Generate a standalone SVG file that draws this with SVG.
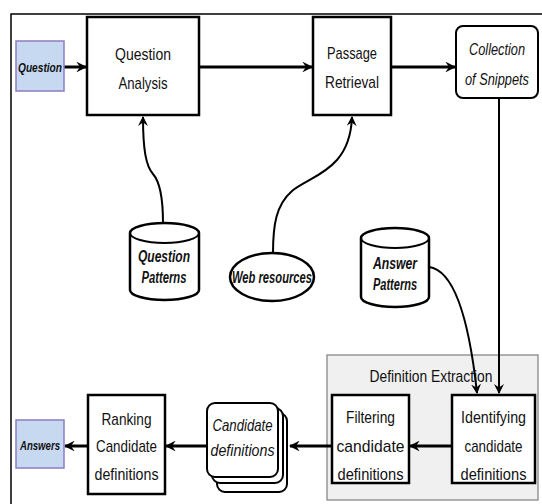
<svg xmlns="http://www.w3.org/2000/svg" width="542" height="504" viewBox="0 0 542 504">
  <style>
    .box{fill:#fff;stroke:#000;stroke-width:2.5}
    .soft{fill:#fff;stroke:#000;stroke-width:2}
    .io{fill:#c6d9f1;stroke:#8e7cc3;stroke-width:1.5}
    .group{fill:#f0f0f0;stroke:#7f7f7f;stroke-width:1.2}
    .t{font-family:"Liberation Sans",Arial,sans-serif;font-size:17px;fill:#111;text-anchor:middle}
    .it{font-style:italic}
    .bi{font-style:italic;font-weight:bold;font-size:16px;fill:#111}
    .sm{font-size:12px}
    .flow{fill:none;stroke:#000;stroke-width:3}
    .link{fill:none;stroke:#000;stroke-width:2}
    .frame{fill:none;stroke:#000;stroke-width:1.5}
  </style>
  <defs>
    <marker id="ahFlow" viewBox="0 0 10 10" refX="9" refY="5" markerWidth="3.6" markerHeight="3.6" orient="auto" markerUnits="strokeWidth">
      <path d="M0,0 L10,5 L0,10 L3.5,5 z" fill="#000"/>
    </marker>
    <marker id="ahLink" viewBox="0 0 10 10" refX="9" refY="5" markerWidth="5" markerHeight="5" orient="auto" markerUnits="strokeWidth">
      <path d="M0,0 L10,5 L0,10 L3.5,5 z" fill="#000"/>
    </marker>
  </defs>

  <!-- outer frame -->
  <path class="frame" d="M11,504 V14 H542"/>

  <!-- definition extraction container -->
  <g id="definition-extraction">
    <rect class="group" x="327" y="355" width="211" height="145"/>
    <text class="t" x="431" y="382" font-size="16" textLength="123" lengthAdjust="spacingAndGlyphs">Definition Extraction</text>
  </g>

  <g id="connectors">
    <line class="flow" x1="64" y1="67" x2="86" y2="67" marker-end="url(#ahFlow)"/>
    <line class="flow" x1="199" y1="67" x2="312" y2="67" marker-end="url(#ahFlow)"/>
    <line class="flow" x1="391" y1="67" x2="455" y2="67" marker-end="url(#ahFlow)"/>
    <line class="link" x1="499" y1="98" x2="499" y2="393" marker-end="url(#ahLink)"/>
    <path class="link" d="M163,223 C163,200 160,182 153,174 C146,166 143,150 143,117" marker-end="url(#ahLink)"/>
    <path class="link" d="M273,253 C273,225 276,205 292,191 C312,175 350,170 352,117" marker-end="url(#ahLink)"/>
    <path class="link" d="M429,267 C452,270 468,310 477,393" marker-end="url(#ahLink)"/>
    <line class="flow" x1="452" y1="446" x2="410" y2="446" marker-end="url(#ahFlow)"/>
    <line class="flow" x1="332" y1="446" x2="290" y2="446" marker-end="url(#ahFlow)"/>
    <line class="flow" x1="207" y1="446" x2="166" y2="446" marker-end="url(#ahFlow)"/>
    <line class="flow" x1="88" y1="446" x2="65" y2="446" marker-end="url(#ahFlow)"/>
  </g>

  <g id="question">
    <rect class="io" x="16" y="41" width="48" height="50"/>
    <text class="t it sm" x="40" y="72" font-weight="bold" textLength="44" lengthAdjust="spacingAndGlyphs">Question</text>
  </g>

  <g id="question-analysis">
    <rect class="box" x="87" y="17" width="112" height="98"/>
    <text class="t" x="143" y="60" textLength="56" lengthAdjust="spacingAndGlyphs">Question</text>
    <text class="t" x="143" y="89" textLength="49" lengthAdjust="spacingAndGlyphs">Analysis</text>
  </g>

  <g id="passage-retrieval">
    <rect class="box" x="313" y="17" width="78" height="98"/>
    <text class="t" x="352" y="59" textLength="50" lengthAdjust="spacingAndGlyphs">Passage</text>
    <text class="t" x="352" y="88" textLength="54" lengthAdjust="spacingAndGlyphs">Retrieval</text>
  </g>

  <g id="collection-of-snippets">
    <rect class="soft" x="456" y="26" width="82" height="72" rx="7"/>
    <text class="t it" x="497" y="55" font-size="14" textLength="56" lengthAdjust="spacingAndGlyphs">Collection</text>
    <text class="t it" x="497" y="85" font-size="14" textLength="64" lengthAdjust="spacingAndGlyphs">of Snippets</text>
  </g>

  <g id="question-patterns">
    <path class="box" d="M130,233 A34.5,10 0 0 1 199,233 V290 A34.5,10 0 0 1 130,290 Z"/>
    <path class="link" d="M130,233 A34.5,10 0 0 0 199,233"/>
    <text class="t bi" x="164" y="262" textLength="52" lengthAdjust="spacingAndGlyphs">Question</text>
    <text class="t bi" x="164" y="283" textLength="45" lengthAdjust="spacingAndGlyphs">Patterns</text>
  </g>

  <g id="web-resources">
    <ellipse class="box" cx="272" cy="277" rx="42" ry="24"/>
    <text class="t bi" x="272" y="283" font-size="14" textLength="80" lengthAdjust="spacingAndGlyphs">Web resources</text>
  </g>

  <g id="answer-patterns">
    <path class="box" d="M361,238 A34,10 0 0 1 429,238 V297 A34,10 0 0 1 361,297 Z"/>
    <path class="link" d="M361,238 A34,10 0 0 0 429,238"/>
    <text class="t bi" x="395" y="269" textLength="44" lengthAdjust="spacingAndGlyphs">Answer</text>
    <text class="t bi" x="395" y="290" textLength="44" lengthAdjust="spacingAndGlyphs">Patterns</text>
  </g>

  <g id="identifying">
    <rect class="box" x="452" y="395" width="83" height="88"/>
    <text class="t" x="493.5" y="423" textLength="65" lengthAdjust="spacingAndGlyphs">Identifying</text>
    <text class="t" x="493.5" y="452" textLength="58" lengthAdjust="spacingAndGlyphs">candidate</text>
    <text class="t" x="493.5" y="480" textLength="66" lengthAdjust="spacingAndGlyphs">definitions</text>
  </g>

  <g id="filtering">
    <rect class="box" x="332" y="395" width="77" height="88"/>
    <text class="t" x="370.5" y="423" textLength="49" lengthAdjust="spacingAndGlyphs">Filtering</text>
    <text class="t" x="370.5" y="452" textLength="68" lengthAdjust="spacingAndGlyphs">candidate</text>
    <text class="t" x="370.5" y="480" font-size="16" textLength="66" lengthAdjust="spacingAndGlyphs">definitions</text>
  </g>

  <g id="candidate-definitions">
    <rect class="soft" x="217" y="413" width="70" height="79" rx="8"/>
    <rect class="soft" x="212" y="408" width="71" height="75" rx="8"/>
    <rect class="soft" x="207" y="403" width="71" height="74" rx="8"/>
    <text class="t it" x="242.5" y="431" font-size="15" textLength="60" lengthAdjust="spacingAndGlyphs">Candidate</text>
    <text class="t it" x="242.5" y="456" font-size="15" textLength="64" lengthAdjust="spacingAndGlyphs">definitions</text>
  </g>

  <g id="ranking">
    <rect class="box" x="88" y="395" width="77" height="99"/>
    <text class="t" x="126.5" y="425" textLength="50" lengthAdjust="spacingAndGlyphs">Ranking</text>
    <text class="t" x="126.5" y="452" textLength="61" lengthAdjust="spacingAndGlyphs">Candidate</text>
    <text class="t" x="126.5" y="480" font-size="16" textLength="64" lengthAdjust="spacingAndGlyphs">definitions</text>
  </g>

  <g id="answers">
    <rect class="io" x="16" y="420" width="48" height="48"/>
    <text class="t it sm" x="40" y="450" font-weight="bold" textLength="40" lengthAdjust="spacingAndGlyphs">Answers</text>
  </g>
</svg>
